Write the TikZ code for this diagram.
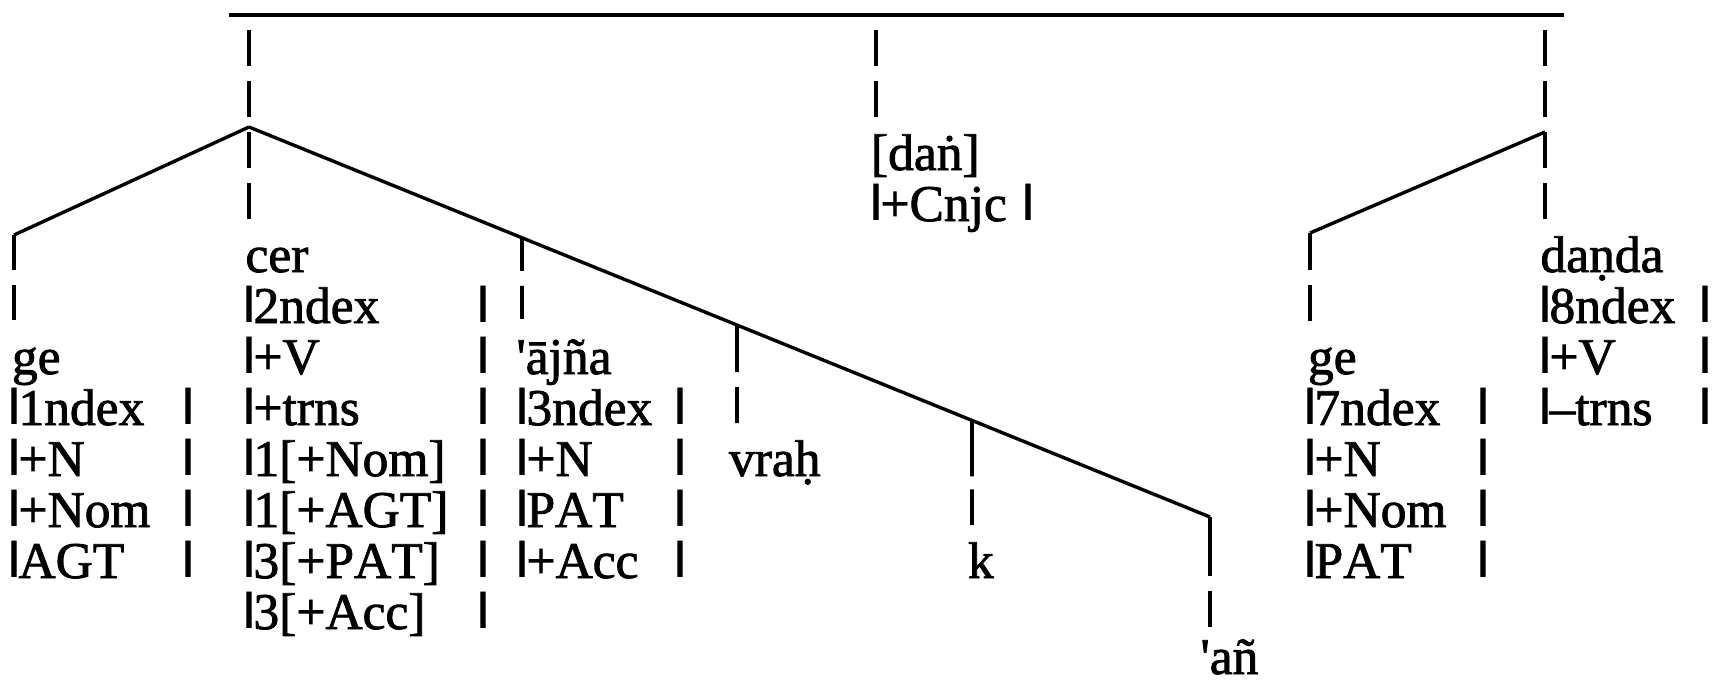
\documentclass[tikz,border=0pt]{standalone}
\usepackage{fontspec}
\setmainfont[Kerning=Off,FakeBold=1.6]{Liberation Serif}
\usepackage{graphicx}
\newcommand\vb{\makebox[9pt]{\raisebox{10pt}{\scalebox{1.6}[0.76]{|}}}}
\newcommand\ap{\textquotesingle}
\begin{document}
\begin{tikzpicture}[x=1pt,y=-1pt,
  tline/.style={line width=3.4pt},
  bar/.style={line width=3.8pt},
  txt/.style={anchor=base west,inner sep=0pt,outer sep=0pt,font=\fontsize{51.5pt}{51pt}\selectfont}]
\useasboundingbox (0,0) rectangle (1712,685);
% ---- coordinates of the tree
\coordinate (tl) at (229,15);
\coordinate (tr) at (1564,15);
\coordinate (bTop) at (249,30);
\coordinate (bBot) at (249,219);
\coordinate (apB) at (249,127);
\coordinate (mTop) at (876,30);
\coordinate (mBot) at (876,117);
\coordinate (hTop) at (1545,30);
\coordinate (hBot) at (1545,219);
\coordinate (apH) at (1545,132);
\coordinate (cornA) at (14,235);
\coordinate (aBot) at (14,321);
\coordinate (endF) at (1210,517);
\coordinate (fBot) at (1210,627);
\path (apB) -- (endF) coordinate[pos=0.2841] (jC) coordinate[pos=0.5078] (jD) coordinate[pos=0.7523] (jE);
\coordinate (cBot) at (522,321);
\coordinate (dBot) at (737,423);
\coordinate (eBot) at (972,525);
\coordinate (cornG) at (1310,233);
\coordinate (gBot) at (1310,321);
% ---- lines
\draw[tline] (tl) -- (tr);
\draw[tline] (apB) -- (cornA);
\draw[tline] (apB) -- (endF);
\draw[tline] (apH) -- (cornG);
\draw[bar,dash pattern=on 36pt off 15pt] (bTop) -- (bBot);
\draw[bar,dash pattern=on 36pt off 15pt] (mTop) -- (mBot);
\draw[bar,dash pattern=on 36pt off 15pt] (hTop) -- (hBot);
\draw[bar,dash pattern=on 35pt off 15pt] (cornA) -- (aBot);
\draw[bar,dash pattern=on 33pt off 15pt] (jC) -- (cBot);
\draw[bar,dash pattern=on 47pt off 15pt] (jD) -- (dBot);
\draw[bar,dash pattern=on 56pt off 13pt] (jE) -- (eBot);
\draw[bar,dash pattern=on 59pt off 15pt] (endF) -- (fBot);
\draw[bar,dash pattern=on 37pt off 15pt] (cornG) -- (gBot);
% ---- column A
\node[txt] (geA) at (12,374) {ge};
\node[txt] (a3) at (9.5,425) {\vb 1ndex};
\node[txt] (a4) at (9.5,476) {\vb +N};
\node[txt] (a5) at (9.5,527) {\vb +Nom};
\node[txt] (a6) at (9.5,578) {\vb AGT};
\foreach \r/\y in {3/425,4/476,5/527,6/578} \node[txt] (ar\r) at (183.5,\y) {\vb};
% ---- column B
\node[txt] (cer) at (245.5,272) {cer};
\node[txt] (b1) at (244.5,323) {\vb 2ndex};
\node[txt] (b2) at (244.5,374) {\vb +V};
\node[txt] (b3) at (244.5,425) {\vb +trns};
\node[txt] (b4) at (244.5,476) {\vb 1[+Nom]};
\node[txt] (b5) at (244.5,527) {\vb 1[+AGT]};
\node[txt] (b6) at (244.5,578) {\vb 3[+PAT]};
\node[txt] (b7) at (244.5,629) {\vb 3[+Acc]};
\foreach \r/\y in {1/323,2/374,3/425,4/476,5/527,6/578,7/629} \node[txt] (br\r) at (478.5,\y) {\vb};
% ---- column C
\node[txt] (ajna) at (516.5,374) {\ap ājña};
\node[txt] (c3) at (517.5,425) {\vb 3ndex};
\node[txt] (c4) at (517.5,476) {\vb +N};
\node[txt] (c5) at (517.5,527) {\vb PAT};
\node[txt] (c6) at (517.5,578) {\vb +Acc};
\foreach \r/\y in {3/425,4/476,5/527,6/578} \node[txt] (cr\r) at (675.5,\y) {\vb};
% ---- columns D, E, F
\node[txt] (vrah) at (729,476) {vraḥ};
\node[txt] (k) at (968,578) {k};
\node[txt] (an) at (1200.5,674) {\ap añ};
% ---- middle
\node[txt] (dan) at (871,170) {[daṅ]};
\node[txt] (cnjc) at (871.5,221) {\vb +Cnjc};
\node[txt] (cnjcr) at (1023.5,221) {\vb};
% ---- column G
\node[txt] (geG) at (1308,374) {ge};
\node[txt] (g3) at (1305.5,425) {\vb 7ndex};
\node[txt] (g4) at (1305.5,476) {\vb +N};
\node[txt] (g5) at (1305.5,527) {\vb +Nom};
\node[txt] (g6) at (1305.5,578) {\vb PAT};
\foreach \r/\y in {3/425,4/476,5/527,6/578} \node[txt] (gr\r) at (1478.5,\y) {\vb};
% ---- column H
\node[txt] (danda) at (1540.5,272) {daṇda};
\node[txt] (h1) at (1540.5,323) {\vb 8ndex};
\node[txt] (h2) at (1540.5,374) {\vb +V};
\node[txt] (h3) at (1540.5,425) {\vb –trns};
\foreach \r/\y in {1/323,2/374,3/425} \node[txt] (hr\r) at (1700.5,\y) {\vb};
\end{tikzpicture}
\end{document}
